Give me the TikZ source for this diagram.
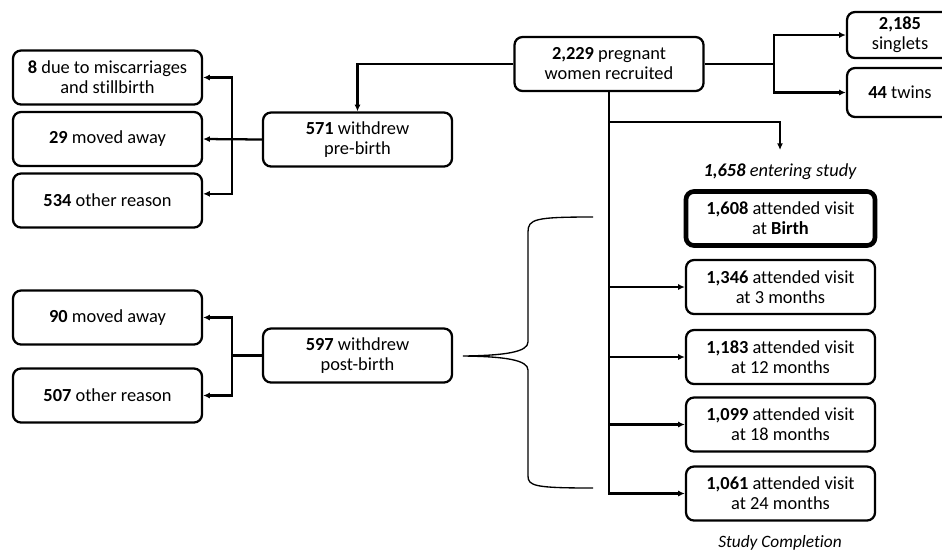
\documentclass[tikz,border=0pt]{standalone}
\usepackage{fontspec}
\setmainfont{Carlito}[Ligatures=NoCommon]
\usetikzlibrary{arrows.meta}

\begin{document}
\begin{tikzpicture}[x=0.75pt, y=-0.75pt, >={Latex[length=5pt,width=4.5pt]}, line width=1.7pt]
        \tikzstyle{box}=[draw, rounded corners=6pt, minimum width=141.75pt, minimum height=40.5pt, align=center, inner sep=2pt, font=\fontsize{13.8}{15}\selectfont]
        \tikzstyle{smallbox}=[box, minimum width=79.5pt]
        \tikzstyle{label}=[font=\fontsize{13.8}{15}\selectfont\itshape]

        \useasboundingbox (0,0) rectangle (942,551);

        % recruitment
        \node[box](rec) at (609,64){\textbf{2,229} pregnant\\women recruited};
        \node[smallbox, minimum height=34.5pt](sing) at (900,35){\textbf{2,185}\\singlets};
        \node[smallbox, minimum height=36.75pt](twin) at (900,92.5){\textbf{44} twins};

        % withdrawals
        \node[box](pre) at (357.5,139.5){\textbf{571} withdrew\\pre-birth};
        \node[box](post) at (357.5,355.5){\textbf{597} withdrew\\post-birth};
        \node[box](mis) at (107.5,77.5){\textbf{8} due to miscarriages\\and stillbirth};
        \node[box](mov1) at (107.5,139){\textbf{29} moved away};
        \node[box](oth1) at (107.5,200.5){\textbf{534} other reason};
        \node[box](mov2) at (107.5,317.5){\textbf{90} moved away};
        \node[box](oth2) at (107.5,395.5){\textbf{507} other reason};

        % visits
        \node[label](enter) at (780,172){\textbf{1,658} entering study};
        \node[box, line width=3.5pt](vb) at (780.5,218.5){\textbf{1,608} attended visit\\at \textbf{Birth}};
        \node[box](v3) at (780.5,287){\textbf{1,346} attended visit\\at 3 months};
        \node[box](v12) at (780.5,357){\textbf{1,183} attended visit\\at 12 months};
        \node[box](v18) at (780.5,424.5){\textbf{1,099} attended visit\\at 18 months};
        \node[box](v24) at (780.5,493.5){\textbf{1,061} attended visit\\at 24 months};
        \node[label, font=\fontsize{13}{15}\selectfont\itshape](done) at (780,543){Study Completion};

        \coordinate (ja) at (232,139.5);
        \coordinate (jb) at (232,355.5);
        \coordinate (jc) at (774,64);
        \coordinate (jd) at (780,150);

        \draw[->] (rec.west) -| (pre.north);
        \draw[->] (pre.west) -- (mov1.east);
        \draw[->] (ja) |- (mis.east);
        \draw[->] (ja) |- ([yshift=5pt]oth1.east);
        \draw (post.west) -- (jb);
        \draw[->] (jb) |- (mov2.east);
        \draw[->] (jb) |- (oth2.east);

        \draw (rec.east) -- (jc);
        \draw[->] (jc) |- (sing.west);
        \draw[->] (jc) |- (twin.west);

        \draw[->] (rec.south) |- (v24.west);
        \foreach \v in {v3,v12,v18}
            \draw[->] (rec.south |- \v.west) -- (\v.west);
        \draw[->] (rec.south |- 0,122) -| (jd);

        % brace
        \draw[line width=1pt] (593,217) .. controls (535,217) and (528,219) .. (528,232) -- (528,342)
            .. controls (528,352) and (505,355.5) .. (463,356)
            .. controls (505,356.5) and (528,360) .. (528,370) -- (528,476)
            .. controls (528,486) and (535,488) .. (593,488);

\end{tikzpicture}
\end{document}
